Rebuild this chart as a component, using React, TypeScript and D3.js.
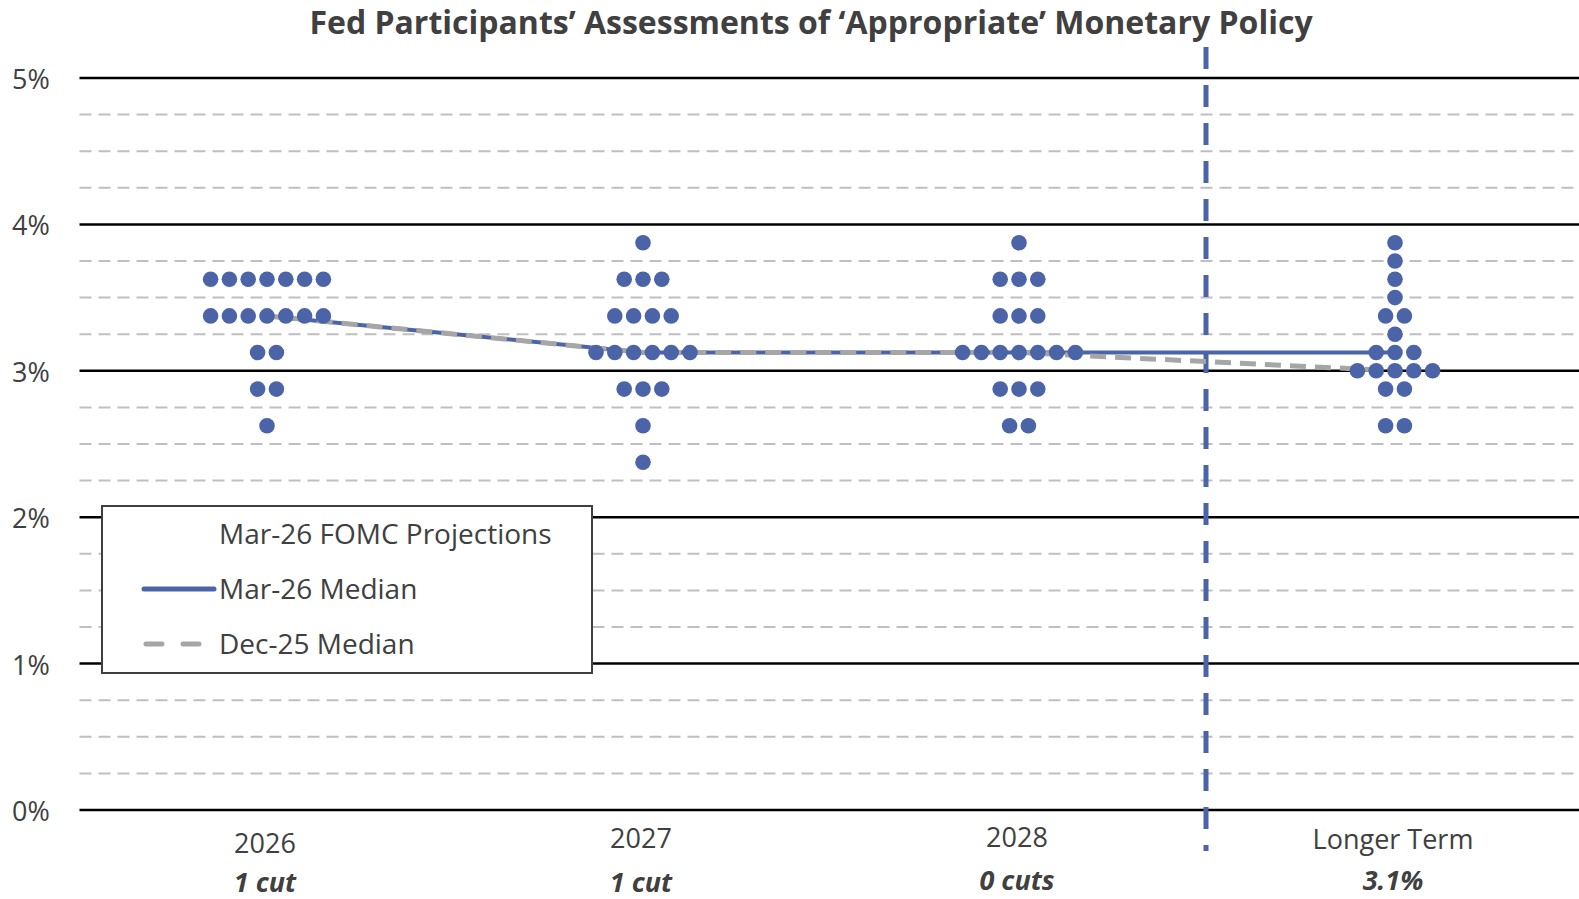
import React from "react";
import * as d3 from "d3";

const W = 1579;
const H = 899;

const categories = ["2026", "2027", "2028", "Longer Term"];
const subLabels = ["1 cut", "1 cut", "0 cuts", "3.1%"];

// [rate, number of participants]
const dots2026: [number, number][] = [[3.625, 7], [3.375, 7], [3.125, 2], [2.875, 2], [2.625, 1]];
const dots2027: [number, number][] = [[3.875, 1], [3.625, 3], [3.375, 4], [3.125, 6], [2.875, 3], [2.625, 1], [2.375, 1]];
const dots2028: [number, number][] = [[3.875, 1], [3.625, 3], [3.375, 3], [3.125, 7], [2.875, 3], [2.625, 2]];
const dotsLonger: [number, number][] = [[3.875, 1], [3.75, 1], [3.625, 1], [3.5, 1], [3.375, 2], [3.25, 1], [3.125, 3], [3.0, 5], [2.875, 2], [2.625, 2]];
const dotSets = [dots2026, dots2027, dots2028, dotsLonger];

const mar26Median = [3.375, 3.125, 3.125, 3.125];
const dec25Median = [3.375, 3.125, 3.125, 3.0];

const yTicks = [0, 1, 2, 3, 4, 5];
const minorTicks = d3.range(0, 5.001, 0.25).filter((v) => Math.abs(v - Math.round(v)) > 1e-6);

const BLUE = "#4b64a8";
const GRAY = "#a6a6a6";
const TEXT = "#404040";
const FONT = "'Open Sans', sans-serif";

export default function App() {
  const x = d3.scaleBand<string>().domain(categories).range([79, 1583]).padding(0);
  const y = d3.scaleLinear().domain([0, 5]).range([810, 78]);
  const cx = (c: string) => (x(c) as number) + x.bandwidth() / 2;
  const dotStep = 18.8;
  const r = 7.8;
  const gridX0 = 79.5;
  const gridX1 = W;
  const sepX = x(categories[3]) as number;

  const line = d3
    .line<number>()
    .x((_, i) => cx(categories[i]))
    .y((d) => y(d));

  return (
    <svg
      width={W}
      height={H}
      style={{ position: "absolute", left: 0, top: 0, background: "#fff" }}
      fontFamily={FONT}
    >
      <rect x={0} y={0} width={W} height={H} fill="#fff" />
      <text x={811} y={34} textAnchor="middle" fontSize={32} fontWeight={700} fill={TEXT}>
        Fed Participants’ Assessments of ‘Appropriate’ Monetary Policy
      </text>

      {minorTicks.map((t) => (
        <line
          key={"m" + t}
          x1={gridX0}
          x2={gridX1}
          y1={y(t)}
          y2={y(t)}
          stroke="#bfbfbf"
          strokeWidth={2}
          strokeDasharray="12 7"
        />
      ))}
      {yTicks.map((t) => (
        <g key={"t" + t}>
          <line x1={gridX0} x2={gridX1} y1={y(t)} y2={y(t)} stroke="#000" strokeWidth={2.5} />
          <text x={12} y={y(t) + 11} fontSize={27} fill={TEXT}>
            {t}%
          </text>
        </g>
      ))}

      <line
        x1={sepX - 1}
        x2={sepX - 1}
        y1={47}
        y2={851}
        stroke={BLUE}
        strokeWidth={5}
        strokeDasharray="22 16"
      />

      <path d={line(mar26Median) || ""} fill="none" stroke={BLUE} strokeWidth={4} />
      <path
        d={line(dec25Median) || ""}
        fill="none"
        stroke={GRAY}
        strokeWidth={5}
        strokeDasharray="16 9"
      />

      {dotSets.map((set, ci) =>
        set.map(([rate, n]) =>
          d3.range(n).map((i) => (
            <circle
              key={`${ci}-${rate}-${i}`}
              cx={cx(categories[ci]) + (i - (n - 1) / 2) * dotStep}
              cy={y(rate)}
              r={r}
              fill={BLUE}
            />
          ))
        )
      )}

      {categories.map((c, i) => {
        const baseY = [853, 848, 847, 849][i];
        const subY = [892, 892, 890, 890][i];
        return (
          <g key={"c" + c}>
            <text x={cx(c) - 2} y={baseY} textAnchor="middle" fontSize={27} fill={TEXT}>
              {c}
            </text>
            <text
              x={cx(c) - 2}
              y={subY}
              textAnchor="middle"
              fontSize={27}
              fontWeight={700}
              fontStyle="italic"
              fill={TEXT}
            >
              {subLabels[i]}
            </text>
          </g>
        );
      })}

      <g>
        <rect x={102} y={506} width={490} height={167} fill="#fff" stroke={TEXT} strokeWidth={2} />
        <text x={219} y={544} fontSize={28} fill={TEXT}>
          Mar-26 FOMC Projections
        </text>
        <line x1={144} x2={214} y1={589} y2={589} stroke={BLUE} strokeWidth={5} strokeLinecap="round" />
        <text x={219} y={599} fontSize={28} fill={TEXT}>
          Mar-26 Median
        </text>
        <line
          x1={146}
          x2={200}
          y1={644}
          y2={644}
          stroke={GRAY}
          strokeWidth={5}
          strokeLinecap="round"
          strokeDasharray="16 21"
        />
        <text x={219} y={654} fontSize={28} fill={TEXT}>
          Dec-25 Median
        </text>
      </g>
    </svg>
  );
}
